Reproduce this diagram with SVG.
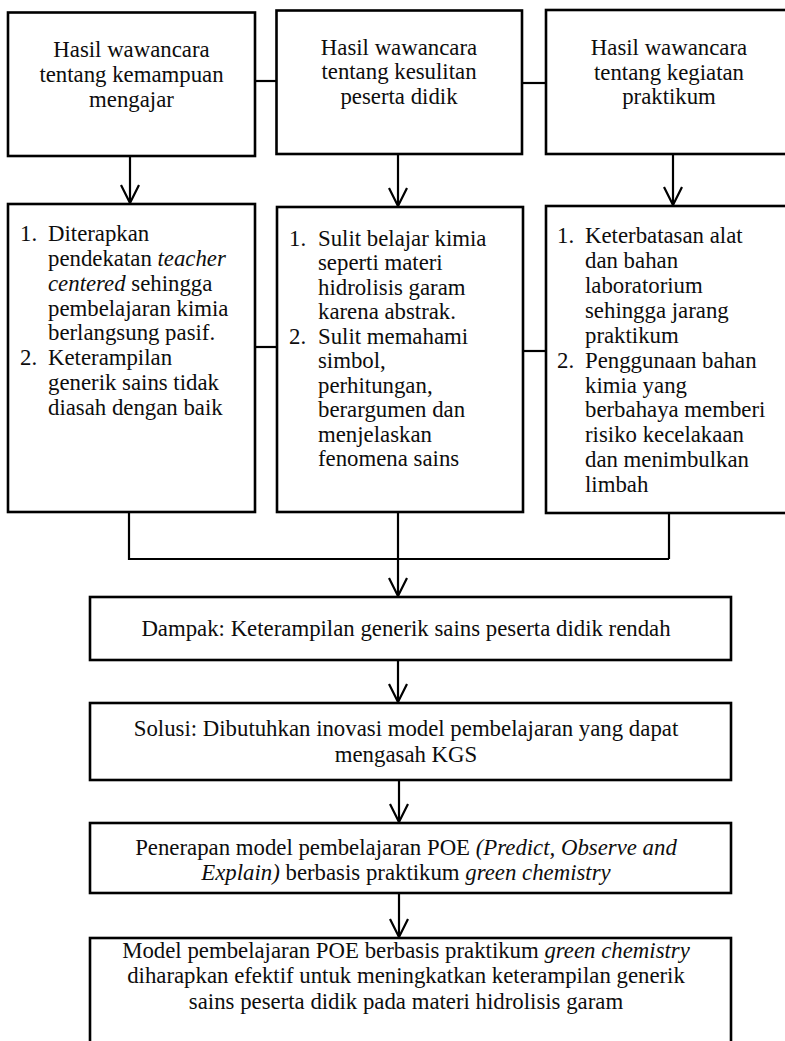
<svg xmlns="http://www.w3.org/2000/svg" width="785" height="1041" viewBox="0 0 785 1041">
<style>
.box{fill:#fff;stroke:#000;stroke-width:2.6}
.t{font-family:"Liberation Serif","Times New Roman",serif;font-size:22.8px;fill:#0d0d0d}
.c{text-anchor:middle}
.i{font-style:italic}
.conn{stroke:#000;stroke-width:2.2;fill:none}
.arrow{marker-end:url(#ah)}
</style>
<defs>
<marker id="ah" viewBox="-20 -11 22 22" markerWidth="22" markerHeight="22" refX="0" refY="0" orient="auto" markerUnits="userSpaceOnUse">
<path d="M-18,-9 L0,0 L-18,9" fill="none" stroke="#000" stroke-width="2.2"/>
</marker>
</defs>
<rect width="785" height="1041" fill="#fff"/>
<g id="connectors">
<path class="conn" d="M255,81 H277"/>
<path class="conn" d="M522,83 H546"/>
<path class="conn" d="M255,347 H277"/>
<path class="conn" d="M523,351 H546"/>
<path class="conn arrow" d="M130,156 V203"/>
<path class="conn arrow" d="M398,154 V206"/>
<path class="conn arrow" d="M673,154 V205"/>
<path class="conn" d="M129,512 V559 H669"/>
<path class="conn" d="M669,511 V559"/>
<path class="conn arrow" d="M398,512 V596"/>
<path class="conn arrow" d="M398,660 V702"/>
<path class="conn arrow" d="M399,780 V822"/>
<path class="conn arrow" d="M399,893 V937"/>
</g>
<g id="node1">
<rect class="box" x="8" y="12.5" width="247" height="143.5"/>
<text class="t c" x="131.5" y="57">Hasil wawancara</text>
<text class="t c" x="131.5" y="82">tentang kemampuan</text>
<text class="t c" x="131.5" y="107">mengajar</text>
</g>
<g id="node2">
<rect class="box" x="276.5" y="10.5" width="245.5" height="143.5"/>
<text class="t c" x="399" y="54.5">Hasil wawancara</text>
<text class="t c" x="399" y="79">tentang kesulitan</text>
<text class="t c" x="399" y="104">peserta didik</text>
</g>
<g id="node3">
<rect class="box" x="546" y="10" width="252" height="144"/>
<text class="t c" x="669" y="55">Hasil wawancara</text>
<text class="t c" x="669" y="79.5">tentang kegiatan</text>
<text class="t c" x="669" y="104">praktikum</text>
</g>
<g id="node4">
<rect class="box" x="8" y="204" width="247" height="308"/>
<text class="t" x="20" y="241">1.</text>
<text class="t" x="48" y="241">Diterapkan</text>
<text class="t" x="48" y="266">pendekatan <tspan class="i">teacher</tspan></text>
<text class="t" x="48" y="291"><tspan class="i">centered</tspan> sehingga</text>
<text class="t" x="48" y="315.5">pembelajaran kimia</text>
<text class="t" x="48" y="340">berlangsung pasif.</text>
<text class="t" x="20" y="365">2.</text>
<text class="t" x="48" y="365">Keterampilan</text>
<text class="t" x="48" y="390">generik sains tidak</text>
<text class="t" x="48" y="415">diasah dengan baik</text>
</g>
<g id="node5">
<rect class="box" x="277" y="207" width="246" height="305"/>
<text class="t" x="289" y="245.5">1.</text>
<text class="t" x="318" y="245.5">Sulit belajar kimia</text>
<text class="t" x="318" y="270">seperti materi</text>
<text class="t" x="318" y="294.5">hidrolisis garam</text>
<text class="t" x="318" y="319">karena abstrak.</text>
<text class="t" x="289" y="343.5">2.</text>
<text class="t" x="318" y="343.5">Sulit memahami</text>
<text class="t" x="318" y="368">simbol,</text>
<text class="t" x="318" y="392.5">perhitungan,</text>
<text class="t" x="318" y="417">berargumen dan</text>
<text class="t" x="318" y="441.5">menjelaskan</text>
<text class="t" x="318" y="466">fenomena sains</text>
</g>
<g id="node6">
<rect class="box" x="546" y="206" width="252" height="307"/>
<text class="t" x="557" y="243">1.</text>
<text class="t" x="585" y="243">Keterbatasan alat</text>
<text class="t" x="585" y="268">dan bahan</text>
<text class="t" x="585" y="293">laboratorium</text>
<text class="t" x="585" y="318">sehingga jarang</text>
<text class="t" x="585" y="342.5">praktikum</text>
<text class="t" x="557" y="367.5">2.</text>
<text class="t" x="585" y="367.5">Penggunaan bahan</text>
<text class="t" x="585" y="392.5">kimia yang</text>
<text class="t" x="585" y="417">berbahaya memberi</text>
<text class="t" x="585" y="442">risiko kecelakaan</text>
<text class="t" x="585" y="467">dan menimbulkan</text>
<text class="t" x="585" y="492">limbah</text>
</g>
<g id="node7">
<rect class="box" x="90" y="597" width="641" height="63"/>
<text class="t c" x="406" y="636">Dampak: Keterampilan generik sains peserta didik rendah</text>
</g>
<g id="node8">
<rect class="box" x="90" y="703" width="641" height="77"/>
<text class="t c" x="406" y="736">Solusi: Dibutuhkan inovasi model pembelajaran yang dapat</text>
<text class="t c" x="406" y="762">mengasah KGS</text>
</g>
<g id="node9">
<rect class="box" x="90" y="823" width="641" height="70"/>
<text class="t c" x="406" y="855">Penerapan model pembelajaran POE <tspan class="i">(Predict, Observe and</tspan></text>
<text class="t c" x="406" y="880"><tspan class="i">Explain)</tspan> berbasis praktikum <tspan class="i">green chemistry</tspan></text>
</g>
<g id="node10">
<rect class="box" x="90" y="938" width="641" height="120"/>
<text class="t c" x="406" y="958">Model pembelajaran POE berbasis praktikum <tspan class="i">green chemistry</tspan></text>
<text class="t c" x="406" y="983">diharapkan efektif untuk meningkatkan keterampilan generik</text>
<text class="t c" x="406" y="1009">sains peserta didik pada materi hidrolisis garam</text>
</g>
</svg>
